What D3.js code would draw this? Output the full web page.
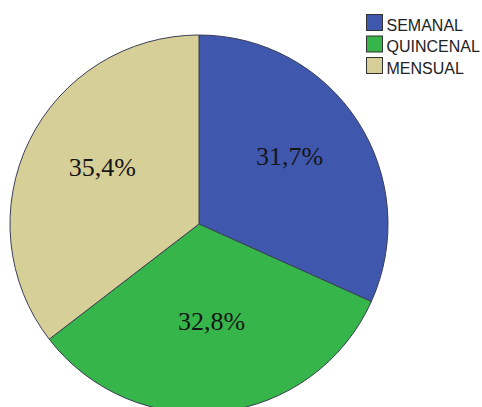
<!DOCTYPE html>
<html>
<head>
<meta charset="utf-8">
<script src="https://cdn.jsdelivr.net/npm/d3@7"></script>
<style>
  html, body { margin: 0; padding: 0; background: #fff; }
  svg { display: block; }
</style>
</head>
<body>
<svg id="chart" width="482" height="407"></svg>
<script>
const categories = ["SEMANAL", "QUINCENAL", "MENSUAL"];
const values = [31.7, 32.8, 35.4];
const labels = ["31,7%", "32,8%", "35,4%"];
const colors = ["#3f58ae", "#36b54a", "#d6cf98"];

const svg = d3.select("#chart");
const cx = 199, cy = 224, r = 189;

const pie = d3.pie().sort(null).value(d => d)(values);
const arc = d3.arc().innerRadius(0).outerRadius(r);
const labelArc = d3.arc().innerRadius(r * 0.57).outerRadius(r * 0.57);

const g = svg.append("g").attr("transform", `translate(${cx},${cy})`);
g.selectAll("path").data(pie).enter().append("path")
  .attr("d", arc)
  .attr("fill", (d, i) => colors[i])
  .attr("stroke", "#3b3f55")
  .attr("stroke-width", 1);

g.selectAll("text").data(pie).enter().append("text")
  .attr("transform", d => {
    const [x, y] = labelArc.centroid(d);
    return `translate(${x},${y - 10})`;
  })
  .attr("text-anchor", "middle")
  .attr("dy", "0.35em")
  .style("font-family", "'Liberation Serif', 'Times New Roman', serif")
  .style("font-size", "26px")
  .attr("fill", "#161616")
  .text((d, i) => labels[i]);

const leg = svg.append("g").attr("transform", "translate(366.5,14.5)");
const items = leg.selectAll("g").data(categories).enter().append("g")
  .attr("transform", (d, i) => `translate(0,${i * 21.5})`);
items.append("rect")
  .attr("width", 16).attr("height", 16)
  .attr("fill", (d, i) => colors[i])
  .attr("stroke", "#333").attr("stroke-width", 1);
items.append("text")
  .attr("x", 20).attr("y", 16)
  .style("font-family", "'Liberation Sans', Arial, sans-serif")
  .style("font-size", "16px")
  .attr("fill", "#222")
  .text(d => d);
</script>
</body>
</html>
